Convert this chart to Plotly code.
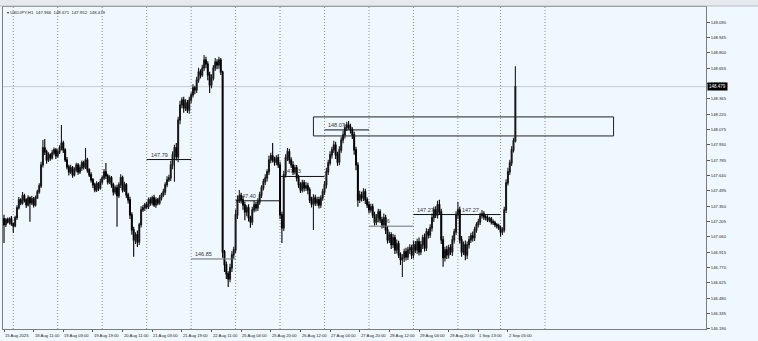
import plotly.graph_objects as go

# ---------------- data ----------------
first_open = 147.230
closes = [
    147.173, 147.220, 147.201, 147.229, 147.182, 147.163, 147.239, 147.333, 147.409, 147.380,
    147.447, 147.409, 147.361, 147.428, 147.380, 147.418, 147.361, 147.428, 147.484, 147.541,
    147.739, 147.900, 147.862, 147.786, 147.834, 147.806, 147.853, 147.881, 147.825, 147.862,
    147.900, 147.947, 147.881, 147.786, 147.721, 147.673, 147.711, 147.645, 147.692, 147.739,
    147.673, 147.711, 147.758, 147.721, 147.786, 147.692, 147.645, 147.598, 147.551, 147.503,
    147.560, 147.522, 147.579, 147.617, 147.673, 147.636, 147.579, 147.617, 147.551, 147.484,
    147.522, 147.447, 147.551, 147.617, 147.503, 147.551, 147.456, 147.409, 147.267, 147.125,
    147.031, 147.078, 147.012, 147.173, 147.314, 147.333, 147.361, 147.343, 147.409, 147.380,
    147.428, 147.361, 147.409, 147.380, 147.428, 147.456, 147.484, 147.551, 147.598, 147.617,
    147.739, 147.834, 147.900, 147.815, 148.164, 148.306, 148.353, 148.278, 148.325, 148.259,
    148.353, 148.401, 148.467, 148.448, 148.542, 148.618, 148.590, 148.656, 148.731, 148.693,
    148.590, 148.495, 148.561, 148.656, 148.712, 148.684, 148.731, 148.618, 146.917, 146.795,
    146.709, 146.661, 146.766, 146.889, 146.936, 147.267, 147.409, 147.447, 147.409, 147.361,
    147.295, 147.333, 147.239, 147.201, 147.314, 147.361, 147.333, 147.390, 147.456, 147.522,
    147.579, 147.617, 147.673, 147.786, 147.825, 147.786, 147.767, 147.806, 147.739, 147.267,
    147.144, 147.645, 147.806, 147.862, 147.786, 147.739, 147.673, 147.711, 147.617, 147.551,
    147.503, 147.569, 147.522, 147.541, 147.503, 147.409, 147.371, 147.428, 147.380, 147.409,
    147.361, 147.428, 147.484, 147.551, 147.673, 147.758, 147.834, 147.881, 147.928, 147.834,
    147.767, 147.881, 147.975, 148.023, 148.089, 148.117, 148.098, 148.070, 148.023, 147.881,
    147.739, 147.409, 147.456, 147.428, 147.484, 147.409, 147.361, 147.314, 147.343, 147.267,
    147.201, 147.239, 147.295, 147.220, 147.173, 147.239, 147.125, 147.031, 147.078, 146.984,
    147.050, 146.936, 146.993, 146.889, 146.842, 146.861, 146.917, 146.870, 146.936, 146.955,
    146.889, 146.984, 146.936, 147.012, 146.917, 146.984, 147.050, 146.955, 147.106, 147.078,
    147.144, 147.239, 147.314, 147.267, 147.361, 147.295, 147.031, 146.861, 146.936, 146.889,
    146.955, 146.917, 147.031, 147.106, 147.267, 147.314, 147.031, 146.917, 146.984, 146.889,
    146.984, 147.031, 147.069, 147.050, 147.125, 147.173, 147.201, 147.258, 147.276, 147.248,
    147.239, 147.220, 147.229, 147.201, 147.192, 147.173, 147.163, 147.144, 147.106, 147.125,
    147.314, 147.569, 147.673, 147.758, 147.881, 147.966, 148.479,
]
upper_wick = [
    0.037, 0.018, 0.022, 0.015, 0.027, 0.012, 0.020, 0.025, 0.028, 0.014,
    0.037, 0.020, 0.016, 0.024, 0.012, 0.030, 0.018, 0.022, 0.020, 0.026,
    0.030, 0.075, 0.085, 0.020, 0.025, 0.016, 0.030, 0.022, 0.018, 0.026,
    0.024, 0.170, 0.020, 0.016, 0.028, 0.020, 0.030, 0.018, 0.024, 0.020,
    0.018, 0.030, 0.022, 0.020, 0.114, 0.020, 0.016, 0.024, 0.018, 0.020,
    0.024, 0.018, 0.030, 0.020, 0.028, 0.085, 0.020, 0.024, 0.018, 0.020,
    0.022, 0.030, 0.025, 0.035, 0.020, 0.028, 0.018, 0.020, 0.030, 0.025,
    0.030, 0.025, 0.040, 0.020, 0.035, 0.028, 0.020, 0.030, 0.022, 0.025,
    0.020, 0.030, 0.024, 0.018, 0.026, 0.020, 0.030, 0.025, 0.035, 0.030,
    0.040, 0.035, 0.030, 0.047, 0.030, 0.040, 0.025, 0.030, 0.035, 0.028,
    0.030, 0.025, 0.035, 0.020, 0.030, 0.040, 0.025, 0.030, 0.047, 0.030,
    0.025, 0.030, 0.035, 0.028, 0.038, 0.025, 0.030, 0.020, 0.012, 0.019,
    0.030, 0.025, 0.040, 0.035, 0.030, 0.050, 0.040, 0.056, 0.030, 0.035,
    0.030, 0.025, 0.035, 0.020, 0.030, 0.040, 0.028, 0.035, 0.030, 0.025,
    0.030, 0.035, 0.025, 0.040, 0.030, 0.122, 0.030, 0.025, 0.035, 0.030,
    0.030, 0.040, 0.035, 0.038, 0.030, 0.025, 0.035, 0.030, 0.028, 0.030,
    0.025, 0.030, 0.028, 0.035, 0.030, 0.025, 0.030, 0.035, 0.028, 0.030,
    0.030, 0.025, 0.030, 0.035, 0.040, 0.030, 0.035, 0.030, 0.040, 0.030,
    0.030, 0.035, 0.030, 0.040, 0.035, 0.030, 0.038, 0.030, 0.025, 0.030,
    0.030, 0.025, 0.040, 0.030, 0.035, 0.030, 0.025, 0.035, 0.030, 0.028,
    0.030, 0.035, 0.030, 0.025, 0.030, 0.040, 0.030, 0.035, 0.030, 0.025,
    0.035, 0.030, 0.040, 0.030, 0.025, 0.035, 0.030, 0.040, 0.030, 0.035,
    0.030, 0.040, 0.035, 0.030, 0.040, 0.035, 0.030, 0.040, 0.035, 0.030,
    0.035, 0.040, 0.030, 0.035, 0.040, 0.048, 0.030, 0.035, 0.030, 0.040,
    0.030, 0.035, 0.040, 0.030, 0.035, 0.076, 0.030, 0.035, 0.030, 0.040,
    0.030, 0.035, 0.030, 0.040, 0.030, 0.025, 0.030, 0.028, 0.038, 0.025,
    0.020, 0.025, 0.020, 0.018, 0.022, 0.020, 0.018, 0.020, 0.022, 0.025,
    0.030, 0.035, 0.040, 0.030, 0.035, 0.030, 0.192,
]
lower_wick = [
    0.171, 0.020, 0.015, 0.024, 0.018, 0.066, 0.012, 0.020, 0.016, 0.022,
    0.018, 0.025, 0.030, 0.014, 0.179, 0.020, 0.024, 0.016, 0.012, 0.018,
    0.020, 0.025, 0.030, 0.035, 0.020, 0.028, 0.016, 0.022, 0.030, 0.018,
    0.020, 0.025, 0.030, 0.020, 0.024, 0.035, 0.020, 0.028, 0.016, 0.022,
    0.026, 0.020, 0.030, 0.024, 0.020, 0.028, 0.020, 0.025, 0.030, 0.022,
    0.020, 0.030, 0.018, 0.025, 0.020, 0.030, 0.024, 0.020, 0.028, 0.035,
    0.024, 0.293, 0.020, 0.030, 0.025, 0.020, 0.030, 0.035, 0.040, 0.045,
    0.161, 0.040, 0.050, 0.030, 0.025, 0.020, 0.030, 0.024, 0.020, 0.028,
    0.025, 0.020, 0.030, 0.022, 0.018, 0.025, 0.020, 0.030, 0.024, 0.020,
    0.030, 0.040, 0.255, 0.035, 0.050, 0.040, 0.030, 0.045, 0.030, 0.028,
    0.035, 0.030, 0.025, 0.040, 0.030, 0.025, 0.035, 0.020, 0.030, 0.040,
    0.050, 0.075, 0.030, 0.025, 0.030, 0.040, 0.035, 0.030, 0.056, 0.067,
    0.048, 0.076, 0.030, 0.040, 0.035, 0.030, 0.040, 0.030, 0.035, 0.045,
    0.080, 0.040, 0.035, 0.057, 0.030, 0.025, 0.035, 0.030, 0.028, 0.030,
    0.025, 0.030, 0.035, 0.028, 0.030, 0.025, 0.035, 0.030, 0.028, 0.040,
    0.142, 0.030, 0.025, 0.030, 0.035, 0.028, 0.030, 0.025, 0.035, 0.030,
    0.030, 0.025, 0.035, 0.030, 0.040, 0.030, 0.035, 0.246, 0.030, 0.028,
    0.035, 0.030, 0.028, 0.030, 0.035, 0.030, 0.025, 0.035, 0.030, 0.040,
    0.035, 0.030, 0.028, 0.030, 0.035, 0.030, 0.025, 0.035, 0.040, 0.045,
    0.050, 0.066, 0.030, 0.035, 0.030, 0.040, 0.030, 0.035, 0.028, 0.030,
    0.035, 0.030, 0.040, 0.030, 0.035, 0.030, 0.040, 0.035, 0.030, 0.040,
    0.030, 0.040, 0.035, 0.030, 0.050, 0.162, 0.040, 0.035, 0.030, 0.040,
    0.040, 0.035, 0.030, 0.040, 0.035, 0.030, 0.040, 0.035, 0.030, 0.035,
    0.030, 0.035, 0.040, 0.030, 0.035, 0.030, 0.040, 0.085, 0.035, 0.040,
    0.035, 0.030, 0.040, 0.035, 0.030, 0.040, 0.035, 0.045, 0.030, 0.050,
    0.040, 0.035, 0.030, 0.035, 0.030, 0.028, 0.025, 0.030, 0.025, 0.030,
    0.025, 0.020, 0.022, 0.025, 0.020, 0.022, 0.025, 0.020, 0.047, 0.030,
    0.025, 0.030, 0.025, 0.030, 0.028, 0.025, 0.014,
]

time_label_bars = [0, 16, 32, 48, 64, 80, 96, 112, 128, 144, 160, 176, 192, 208, 224, 240, 256, 272]
time_labels = ["15 Aug 2025", "18 Aug 11:00", "19 Aug 03:00", "19 Aug 19:00", "20 Aug 11:00",
               "21 Aug 03:00", "21 Aug 19:00", "22 Aug 11:00", "25 Aug 04:00", "25 Aug 20:00",
               "26 Aug 12:00", "27 Aug 04:00", "27 Aug 20:00", "28 Aug 12:00", "29 Aug 04:00",
               "29 Aug 20:00", "1 Sep 13:00", "2 Sep 05:00"]
day_start_bars = [5, 29, 53, 77, 101, 125, 149, 173, 197, 221, 245, 268, 292]

price_ticks = [146.190, 146.335, 146.480, 146.625, 146.770, 146.915, 147.060, 147.205, 147.350,
               147.495, 147.640, 147.785, 147.930, 148.075, 148.220, 148.365, 148.510, 148.655,
               148.800, 148.945, 149.090]

level_values = [147.79, 146.85, 147.40, 147.63, 148.07, 147.16, 147.27, 147.27]
level_labels = ["147.79", "146.85", "147.40", "147.63", "148.07", "147.16", "147.27", "147.27"]
level_day = [3, 4, 5, 6, 7, 8, 9, 10]          # index into day_start_bars
level_gray = [False, True, False, False, False, True, False, False]

zone_start_bar, zone_end_bar = 167, 329
zone_low, zone_high = 148.013, 148.193

symbol = "USDJPY,H1"
current_price = 148.479

# ---------------- build ----------------
n = len(closes)
bars = list(range(n))
opens = [first_open] + closes[:-1]
highs = [max(o, c) + u for o, c, u in zip(opens, closes, upper_wick)]
lows = [min(o, c) - d for o, c, d in zip(opens, closes, lower_wick)]

BG = "#f0f8ff"
fig = go.Figure()
fig.add_trace(go.Candlestick(
    x=bars, open=opens, high=highs, low=lows, close=closes,
    increasing=dict(line=dict(color="#1a1a1a", width=1.1), fillcolor="#1a1a1a"),
    decreasing=dict(line=dict(color="#000000", width=1.1), fillcolor="#000000"),
    whiskerwidth=0, showlegend=False, hoverinfo="skip",
))

shapes = []
# day separators (dotted grid)
for b in day_start_bars:
    shapes.append(dict(type="line", xref="x", yref="paper", x0=b, x1=b, y0=0, y1=1,
                       line=dict(color="#8c8c8c", width=1, dash="1px,2px"), layer="below"))
# current price line
shapes.append(dict(type="line", xref="paper", yref="y", x0=0, x1=1, y0=current_price, y1=current_price,
                   line=dict(color="#c8ccd0", width=1), layer="below"))
# daily level lines
annotations = []
for v, lab, d, g in zip(level_values, level_labels, level_day, level_gray):
    x0 = day_start_bars[d]
    x1 = day_start_bars[d + 1]
    col = "#6e6e6e" if g else "#111111"
    shapes.append(dict(type="line", xref="x", yref="y", x0=x0, x1=x1, y0=v, y1=v,
                       line=dict(color=col, width=1)))
    annotations.append(dict(x=x0 + 1, y=v, xref="x", yref="y", text=lab, showarrow=False,
                            xanchor="left", yanchor="bottom", yshift=0,
                            font=dict(family="Liberation Sans", size=5.5, color="#333333")))
# zone rectangle
shapes.append(dict(type="rect", xref="x", yref="y", x0=zone_start_bar, x1=zone_end_bar,
                   y0=zone_low, y1=zone_high, line=dict(color="#222222", width=1),
                   fillcolor="rgba(0,0,0,0)"))

# toolbar band at the very top
W, H = 758, 341
ML, MR, MT, MB = 3, 52, 7, 12
pw, ph = W - ML - MR, H - MT - MB
shapes.append(dict(type="rect", xref="paper", yref="paper", x0=-ML / pw, x1=1 + MR / pw,
                   y0=1 + 1 / ph, y1=1 + MT / ph, fillcolor="#e6e9ee", line=dict(width=0)))
shapes.append(dict(type="line", xref="paper", yref="paper", x0=-ML / pw, x1=1 + MR / pw,
                   y0=1 + 1 / ph, y1=1 + 1 / ph, line=dict(color="#b8bcc4", width=1)))

# time labels
for b, t in zip(time_label_bars, time_labels):
    annotations.append(dict(x=b - 0.5, y=0, xref="x", yref="paper", text=t, showarrow=False,
                            xanchor="left", yanchor="top", yshift=-2,
                            font=dict(family="Liberation Sans", size=4.2, color="#222222")))
# header
header = "\u25be " + symbol + "  " + "  ".join(f"{v:.3f}" for v in
                                              [opens[-1], highs[-1], lows[-1], closes[-1]])
annotations.append(dict(x=0, y=1, xref="paper", yref="paper", text=header, showarrow=False,
                        xanchor="left", yanchor="top", xshift=2, yshift=-1,
                        font=dict(family="Liberation Sans", size=4.3, color="#222222")))
# current price box
annotations.append(dict(x=1, y=current_price, xref="paper", yref="y", text=f"{current_price:.3f}",
                        showarrow=False, xanchor="left", yanchor="middle", xshift=1,
                        bgcolor="#000000", borderpad=1,
                        font=dict(family="Liberation Sans", size=4.5, color="#ffffff")))

fig.update_layout(
    width=W, height=H, margin=dict(l=ML, r=MR, t=MT, b=MB),
    paper_bgcolor=BG, plot_bgcolor=BG,
    shapes=shapes, annotations=annotations,
    xaxis=dict(range=[-0.54, 378.9], showgrid=False, zeroline=False, showticklabels=False,
               tickvals=time_label_bars, ticks="outside", ticklen=2, tickcolor="#555555",
               showline=True, linecolor="#7d7d7d", linewidth=1, mirror=True,
               rangeslider=dict(visible=False)),
    yaxis=dict(range=[146.188, 149.232], side="right", showgrid=False, zeroline=False,
               tickvals=price_ticks, ticktext=[f"{v:.3f}" for v in price_ticks],
               ticks="outside", ticklen=3, tickcolor="#555555",
               tickfont=dict(family="Liberation Sans", size=4.2, color="#222222"),
               showline=True, linecolor="#7d7d7d", linewidth=1, mirror=True),
    font=dict(family="Liberation Sans"),
)

fig.write_html("out.html")
